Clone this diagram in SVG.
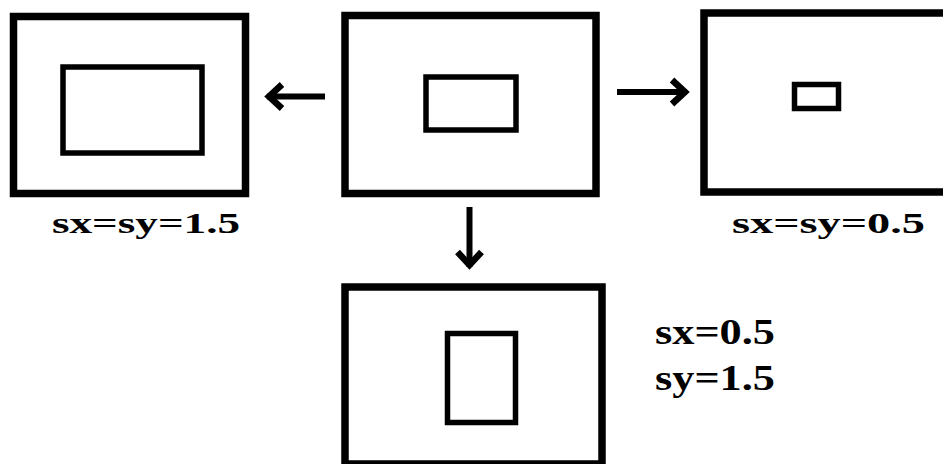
<svg xmlns="http://www.w3.org/2000/svg" width="943" height="464" viewBox="0 0 943 464">
  <style>
    .frame { fill: #fff; stroke: #000; stroke-width: 7.5; }
    .box { fill: #fff; stroke: #000; stroke-width: 5.5; }
    .arrow { fill: none; stroke: #000; stroke-width: 6; marker-end: url(#head); }
    .label { font-family: "Liberation Serif", "Times New Roman", serif; font-weight: bold; fill: #000; }
  </style>
  <defs>
    <marker id="head" markerUnits="userSpaceOnUse" viewBox="-24 -20 30 40" markerWidth="30" markerHeight="40" refX="0" refY="0" orient="auto">
      <path d="M-15,-12 L-2,0 L-15,12" fill="none" stroke="#000" stroke-width="6.5" stroke-linejoin="miter"/>
    </marker>
  </defs>
  <rect width="943" height="464" fill="#fff"/>

  <!-- original shape -->
  <g id="original">
    <rect class="frame" x="345" y="15.5" width="251" height="178"/>
    <rect class="box" x="426" y="77" width="90" height="53"/>
  </g>

  <!-- uniform enlargement -->
  <g id="scale-up">
    <rect class="frame" x="13.5" y="16.5" width="232" height="177"/>
    <rect class="box" x="63" y="67" width="139" height="86"/>
    <text class="label" x="52" y="233" font-size="30" textLength="188" lengthAdjust="spacingAndGlyphs">sx=sy=1.5</text>
  </g>

  <!-- uniform reduction -->
  <g id="scale-down">
    <rect class="frame" x="704" y="13" width="260" height="179" stroke-width="8"/>
    <rect class="box" x="794.5" y="84.5" width="44" height="24" stroke-width="5"/>
    <text class="label" x="732" y="233" font-size="30" textLength="193" lengthAdjust="spacingAndGlyphs">sx=sy=0.5</text>
  </g>

  <!-- non-uniform scaling -->
  <g id="scale-mixed">
    <rect class="frame" x="345" y="287" width="257" height="177" stroke-width="8"/>
    <rect class="box" x="447.5" y="333.5" width="68" height="89" stroke-width="5"/>
    <text class="label" x="655" y="344" font-size="35" textLength="120" lengthAdjust="spacingAndGlyphs">sx=0.5</text>
    <text class="label" x="655" y="390" font-size="35" textLength="120" lengthAdjust="spacingAndGlyphs">sy=1.5</text>
  </g>

  <!-- connectors -->
  <g id="connectors">
    <path class="arrow" d="M325,96.5 H267"/>
    <path class="arrow" d="M617,92 H687"/>
    <path class="arrow" d="M469.5,207 V267"/>
  </g>
</svg>
